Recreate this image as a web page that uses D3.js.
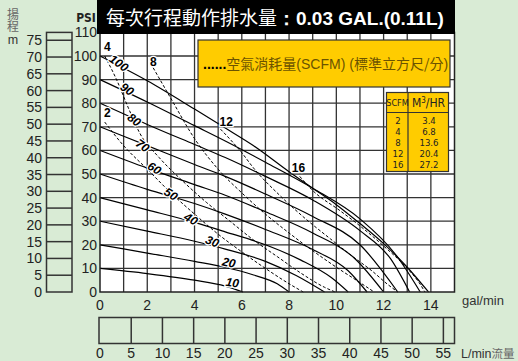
<!DOCTYPE html>
<html><head><meta charset="utf-8">
<script src="https://cdn.jsdelivr.net/npm/d3@7"></script>
<style>
html,body{margin:0;padding:0;background:#d9ebd5;}
svg{display:block;}
</style></head>
<body>
<svg id="c" width="518" height="361"></svg>
<script>
// ---------- data ----------
const flowTicks = [0,2,4,6,8,10,12,14];
const psiTicks = [0,10,20,30,40,50,60,70,80,90,100,110];
const headTicks = [0,5,10,15,20,25,30,35,40,45,50,55,60,65,70,75];
const lpmTicks = [0,5,10,15,20,25,30,35,40,45,50,55];
const pressures = [10,20,30,40,50,60,70,80,90,100];
// constant air-pressure curves [gal/min, psi]
const p10  = [[0,10],[2,7.8],[4,5],[5.3,2.5],[6.05,0]];
const p20  = [[0,20],[2,16.5],[4,13],[5.3,10.5],[6.5,7.2],[7.5,3.5],[8.0,0]];
const p30  = [[0,30],[2,25.8],[4,21.5],[5.3,18.2],[7,13],[8.3,7],[9.5,0]];
const p40  = [[0,40],[2,34.8],[4,29.5],[5.3,25.5],[7,20],[8.5,13.5],[9.8,6],[10.5,0]];
const p50  = [[0,50],[2,43.5],[4,37.5],[5.3,33],[7,26.5],[9,18],[10.5,9],[11.3,0]];
const p60  = [[0,60],[2,52.5],[4,45.5],[5.3,41],[7,34],[9,25],[10.8,14],[12.0,0]];
const p70  = [[0,70],[2,62],[4,54],[5.3,49],[7,41.5],[9,32],[11,20],[12.6,0]];
const p80  = [[0,80],[2,71],[4,62.5],[5.3,57],[7,49],[9,39],[11,26],[12.3,14],[13.1,0]];
const p90  = [[0,90],[2,80.5],[4,70.5],[5.3,64],[7,55],[9,44],[11,31],[12.5,16],[13.55,0]];
const p100 = [[0,100],[2,89.5],[4,77.5],[5.3,69.5],[6.5,62],[8,51],[9,44],[10,37],[11,29],[12,20.5],[13,10.5],[13.9,0]];
const pressureCurves = [p10,p20,p30,p40,p50,p60,p70,p80,p90,p100];
// label positions for pressure curves [gal/min, psi, rotation]
const pressureLabelPos = [[5.6,4,8],[5.45,12.5,12],[4.75,21.5,22],[3.85,31,30],[3.0,41.5,32],[2.3,52.5,32],[1.8,62,35],[1.45,73,35],[1.15,86,35],[0.8,97,35]];
// constant air-consumption curves (SCFM)
const scfm = [2,4,8,12,16];
const m3hr = ["3.4","6.8","13.6","20.4","27.2"];
const a2  = [[0.2,72],[1,62],[2,52],[3,42],[4,33],[5,24.5],[6,17],[7,10],[8,3.5],[8.6,0]];
const a4  = [[0.2,100],[0.7,90],[1.2,78],[1.7,67],[2.5,57],[3.5,47],[4.5,38],[5.5,30],[6.5,22],[7.5,15],[8.5,8],[9.5,2],[9.95,0]];
const a8  = [[2.25,95],[3,82],[4,65],[5,52],[6,42],[7,33],[8,25],[9,17.5],[10,10.5],[11,4],[11.6,0]];
const a12 = [[5.1,69],[6,59],[6.5,52.5],[7.6,41],[8.7,31],[9.75,22.5],[10.7,15],[11.5,9],[12.2,3],[12.6,0]];
const a16 = [[8.45,49],[9,43],[10.15,34.5],[11,28],[12,19.5],[13,10],[13.5,4],[13.75,0]];
const airCurves = [a2,a4,a8,a12,a16];
const airLabelPos = [[0.17,76],[0.17,104],[2.26,97.5],[5.34,72],[8.4,52.5]];

// ---------- layout ----------
const svg = d3.select("#c");
const x = d3.scaleLinear().domain([0,15]).range([100,454.5]);
const y = d3.scaleLinear().domain([0,110]).range([292,32.4]);
const yHead = d3.scaleLinear().domain([0,110*0.70307]).range([292,32.4]);
const xL = d3.scaleLinear().domain([0,15*3.78541]).range([100,454.5]);
const FONT = "'Liberation Sans', Arial, sans-serif";
const CJK = "'Noto Sans CJK TC','Noto Sans CJK SC',sans-serif";
const NARROW = "'Liberation Sans Narrow','DejaVu Sans Condensed',sans-serif";

// plot background
svg.append("rect").attr("x",x(0)).attr("y",y(110)).attr("width",x(15)-x(0)).attr("height",y(0)-y(110)).attr("fill","#fff");

// grid
const gx = d3.range(1,15);
svg.append("g").selectAll("line").data(gx).join("line")
  .attr("x1",d=>x(d)).attr("x2",d=>x(d)).attr("y1",y(110)).attr("y2",y(0))
  .attr("stroke","#333").attr("stroke-width",1.3);
svg.append("g").selectAll("line").data(d3.range(10,110,10)).join("line")
  .attr("x1",x(0)).attr("x2",x(15)).attr("y1",d=>y(d)).attr("y2",d=>y(d))
  .attr("stroke","#333").attr("stroke-width",1.3);

// curves
const line = d3.line().x(d=>x(d[0])).y(d=>y(d[1])).curve(d3.curveMonotoneX);
svg.append("g").selectAll("path").data(pressureCurves).join("path")
  .attr("d",line).attr("fill","none").attr("stroke","#000").attr("stroke-width",1.2);
svg.append("g").selectAll("path").data(airCurves).join("path")
  .attr("d",line).attr("fill","none").attr("stroke","#000").attr("stroke-width",1)
  .attr("stroke-dasharray","3,2");

// pressure labels
svg.append("g").selectAll("text").data(pressures).join("text")
  .attr("transform",(d,i)=>`translate(${x(pressureLabelPos[i][0])},${y(pressureLabelPos[i][1])}) rotate(${pressureLabelPos[i][2]})`)
  .attr("text-anchor","middle").attr("dy","0.35em")
  .attr("font-family",FONT).attr("font-weight","bold").attr("font-style","italic")
  .attr("font-size",12).attr("fill","#000")
  .attr("stroke","#fff").attr("stroke-width",2.5).attr("paint-order","stroke")
  .text(d=>d);
// air labels
svg.append("g").selectAll("text").data(scfm).join("text")
  .attr("x",(d,i)=>x(airLabelPos[i][0])).attr("y",(d,i)=>y(airLabelPos[i][1]))
  .attr("dy","0.35em")
  .attr("font-family",FONT).attr("font-weight","bold").attr("font-size",12).attr("fill","#000")
  .attr("stroke","#fff").attr("stroke-width",2.5).attr("paint-order","stroke")
  .attr("text-anchor",(d,i)=>i<2?"start":"middle")
  .text(d=>d);

// plot border
svg.append("rect").attr("x",x(0)).attr("y",y(110)).attr("width",x(15)-x(0)).attr("height",y(0)-y(110))
  .attr("fill","none").attr("stroke","#222").attr("stroke-width",1.5);

// title bar
svg.append("rect").attr("x",97).attr("y",0).attr("width",358).attr("height",34).attr("fill","#000");
const title = svg.append("text").attr("x",106).attr("y",25).attr("fill","#fff").attr("font-size",19);
title.append("tspan").attr("font-family",CJK).text("每次行程動作排水量");
title.append("tspan").attr("font-family",FONT).attr("font-weight","bold").text("：0.03 GAL.(0.11L)");

// legend box
svg.append("rect").attr("x",198).attr("y",40).attr("width",252).attr("height",47)
  .attr("fill","#ffcc00").attr("stroke","#333").attr("stroke-width",1.2);
const lg = svg.append("text").attr("x",203).attr("y",68.5).attr("font-size",14);
lg.append("tspan").attr("font-family",FONT).attr("fill","#000").attr("font-weight","bold").text("......");
lg.append("tspan").attr("font-family",CJK).attr("fill","#6b5300").text("空氣消耗量");
lg.append("tspan").attr("font-family",FONT).attr("fill","#6b5300").text("(SCFM) (");
lg.append("tspan").attr("font-family",CJK).attr("fill","#6b5300").text("標準立方尺/分");
lg.append("tspan").attr("font-family",FONT).attr("fill","#6b5300").text(")");

// SCFM table
const tb = svg.append("g");
tb.append("rect").attr("x",386.5).attr("y",92.5).attr("width",62).attr("height",79)
  .attr("fill","#ffcc00").attr("stroke","#333").attr("stroke-width",1.2);
tb.append("line").attr("x1",408).attr("x2",408).attr("y1",92.5).attr("y2",171.5).attr("stroke","#333").attr("stroke-width",1.2);
tb.append("line").attr("x1",386.5).attr("x2",448.5).attr("y1",112.5).attr("y2",112.5).attr("stroke","#333").attr("stroke-width",1.2);
tb.append("text").attr("x",397.5).attr("y",106).attr("text-anchor","middle").attr("font-family",NARROW).attr("font-size",9).attr("fill","#222").text("SCFM");
tb.append("text").attr("x",428.5).attr("y",107).attr("text-anchor","middle").attr("font-family",NARROW).attr("font-size",12).attr("fill","#222")
  .html('M<tspan dy="-4" font-size="8">3</tspan><tspan dy="4">/HR</tspan>');
tb.selectAll("text.s").data(scfm).join("text").attr("class","s")
  .attr("x",398).attr("y",(d,i)=>123.5+i*11.1).attr("text-anchor","middle")
  .attr("font-family",NARROW).attr("font-size",9.5).attr("fill","#222").text(d=>d);
tb.selectAll("text.m").data(m3hr).join("text").attr("class","m")
  .attr("x",429).attr("y",(d,i)=>123.5+i*11.1).attr("text-anchor","middle")
  .attr("font-family",NARROW).attr("font-size",9.5).attr("fill","#222").text(d=>d);

// PSI axis labels
svg.append("g").selectAll("text").data(psiTicks).join("text")
  .attr("x",97).attr("y",d=>y(d)).attr("dy","0.36em").attr("text-anchor","end")
  .attr("font-family",FONT).attr("font-size",14).attr("fill","#222").text(d=>d);
svg.append("text").attr("x",86).attr("y",21.5).attr("text-anchor","middle")
  .attr("font-family",NARROW).attr("font-weight","bold").attr("font-size",12).attr("fill","#222").text("PSI");

// head box
svg.append("rect").attr("x",46.5).attr("y",yHead(110*0.70307)).attr("width",25.5).attr("height",yHead(0)-yHead(110*0.70307))
  .attr("fill","none").attr("stroke","#333").attr("stroke-width",1.5);
svg.append("g").selectAll("line").data(headTicks.slice(1)).join("line")
  .attr("x1",46.5).attr("x2",72).attr("y1",d=>yHead(d)).attr("y2",d=>yHead(d))
  .attr("stroke","#333").attr("stroke-width",1.5);
svg.append("g").selectAll("text").data(headTicks).join("text")
  .attr("x",42).attr("y",d=>yHead(d)).attr("dy","0.36em").attr("text-anchor","end")
  .attr("font-family",FONT).attr("font-size",14).attr("fill","#222").text(d=>d);
svg.append("text").attr("x",13).attr("y",8).attr("writing-mode","vertical-rl")
  .attr("font-family",CJK).attr("font-size",12).attr("fill","#666").text("揚程");
svg.append("text").attr("x",13).attr("y",44).attr("text-anchor","middle")
  .attr("font-family",FONT).attr("font-size",12.5).attr("fill","#333").text("m");

// flow axis labels
svg.append("g").selectAll("text").data(flowTicks).join("text")
  .attr("x",d=>x(d)).attr("y",310).attr("text-anchor","middle")
  .attr("font-family",FONT).attr("font-size",14).attr("fill","#222").text(d=>d);
svg.append("text").attr("x",462).attr("y",305).attr("font-family",FONT).attr("font-size",13).attr("fill","#333").text("gal/min");

// L/min box
svg.append("rect").attr("x",xL(0)-1).attr("y",317.5).attr("width",xL(15*3.78541)-xL(0)+1).attr("height",26)
  .attr("fill","none").attr("stroke","#333").attr("stroke-width",1.5);
svg.append("g").selectAll("line").data(lpmTicks.slice(1)).join("line")
  .attr("x1",d=>xL(d)).attr("x2",d=>xL(d)).attr("y1",317.5).attr("y2",343.5)
  .attr("stroke","#333").attr("stroke-width",1.5);
svg.append("g").selectAll("text").data(lpmTicks).join("text")
  .attr("x",d=>xL(d)).attr("y",358).attr("text-anchor","middle")
  .attr("font-family",FONT).attr("font-size",14).attr("fill","#222").text(d=>d);
const lt = svg.append("text").attr("x",461).attr("y",358).attr("font-size",12.5).attr("fill","#333");
lt.append("tspan").attr("font-family",FONT).text("L/min");
lt.append("tspan").attr("font-family",CJK).attr("fill","#666").attr("font-size",11.5).text("流量");
</script>
</body></html>
